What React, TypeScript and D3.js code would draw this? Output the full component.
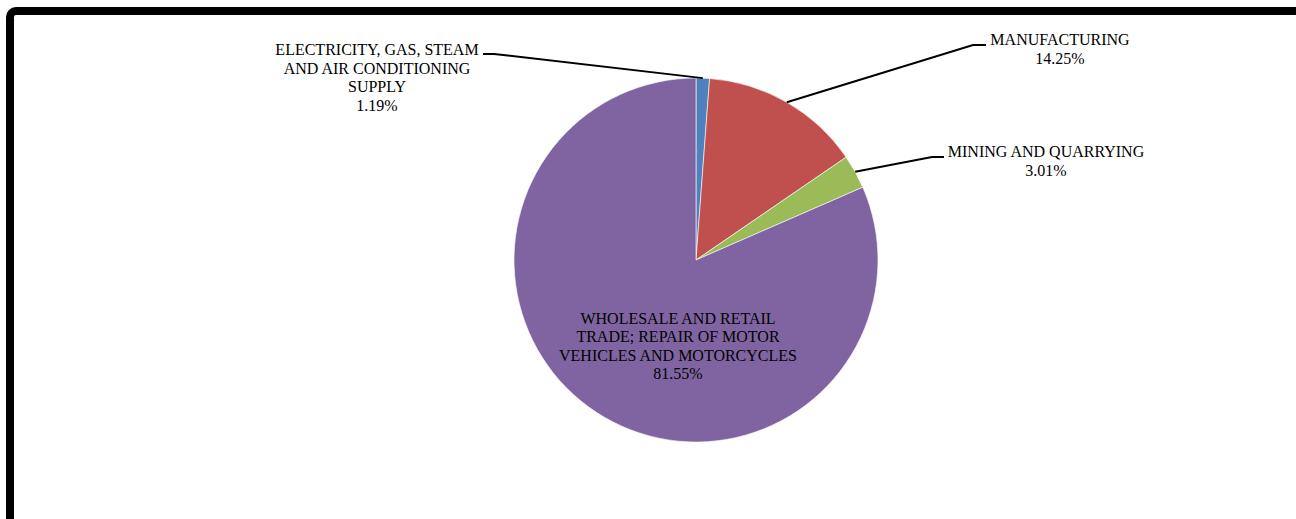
import React from "react";
import * as d3 from "d3";

const categories = [
  "ELECTRICITY, GAS, STEAM AND AIR CONDITIONING SUPPLY",
  "MANUFACTURING",
  "MINING AND QUARRYING",
  "WHOLESALE AND RETAIL TRADE; REPAIR OF MOTOR VEHICLES AND MOTORCYCLES",
];
const values = [1.19, 14.25, 3.01, 81.55];
const labelLines = [
  ["ELECTRICITY, GAS, STEAM", "AND AIR CONDITIONING", "SUPPLY", "1.19%"],
  ["MANUFACTURING", "14.25%"],
  ["MINING AND QUARRYING", "3.01%"],
  ["WHOLESALE AND RETAIL", "TRADE; REPAIR OF MOTOR", "VEHICLES AND MOTORCYCLES", "81.55%"],
];
const colors = ["#4F81BD", "#C0504D", "#9BBB59", "#8064A2"];

const W = 1296;
const H = 519;
const cx = 696;
const cy = 260;
const R = 182;
const FONT = 16;
const LH = 18.6;

const layout = [
  { tx: 377, ty: 55, inside: false, ex: 494, ey: 54, hx: 483 },
  { tx: 1060, ty: 45, inside: false, ex: 973, ey: 45, hx: 986 },
  { tx: 1046, ty: 157, inside: false, ex: 932, ey: 157, hx: 944 },
  { tx: 678, ty: 323.5, inside: true, ex: 0, ey: 0, hx: 0 },
];

export default function App() {
  const pie = d3.pie<number>().sort(null).value((d) => d);
  const arcs = pie(values);
  const arc = d3.arc<d3.PieArcDatum<number>>().innerRadius(0).outerRadius(R);

  return (
    <div style={{ position: "fixed", left: 0, top: 0, width: W, height: H, background: "#fff" }}>
      <svg width={W} height={H} style={{ display: "block", fontFamily: "\"Liberation Serif\", \"Times New Roman\", Times, serif" }}>
        <rect x={10} y={11} width={W + 40} height={H + 40} rx={6} ry={6} fill="#fff" stroke="#000" strokeWidth={8} />
        <g transform={`translate(${cx},${cy})`}>
          {arcs.map((a, i) => (
            <path key={categories[i]} d={arc(a) || ""} fill={colors[i]} stroke="#fff" strokeWidth={0.6} />
          ))}
        </g>
        {arcs.map((a, i) => {
          const L = layout[i];
          if (L.inside) return null;
          const mid = (a.startAngle + a.endAngle) / 2;
          const px = cx + R * Math.sin(mid);
          const py = cy - R * Math.cos(mid);
          return (
            <polyline
              key={"l" + i}
              points={`${px},${py} ${L.ex},${L.ey} ${L.hx},${L.ey}`}
              fill="none"
              stroke="#000"
              strokeWidth={2}
            />
          );
        })}
        {labelLines.map((lines, i) => {
          const L = layout[i];
          return (
            <text
              key={"t" + i}
              textAnchor="middle"
              style={{ fontFamily: "\"Liberation Serif\", \"Times New Roman\", Times, serif", fontSize: FONT }}
              fill="#000"
            >
              {lines.map((ln, j) => (
                <tspan key={j} x={L.tx} y={L.ty + j * LH}>
                  {ln}
                </tspan>
              ))}
            </text>
          );
        })}
      </svg>
    </div>
  );
}
